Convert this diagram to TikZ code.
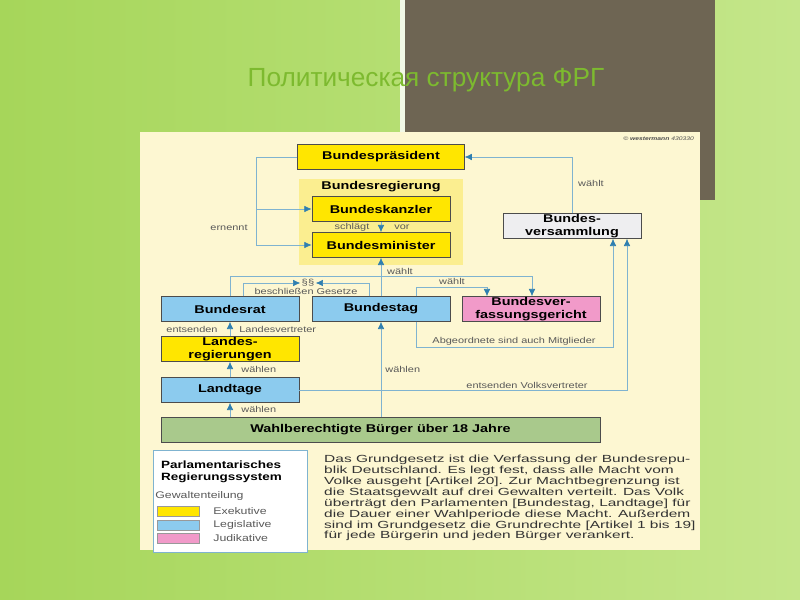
\documentclass[tikz,border=0pt]{standalone}
\usepackage{fontspec}
\setmainfont{Liberation Sans}[FakeStretch=1.28]
\newfontfamily\titlefont{Liberation Sans}
\newfontfamily\parafont{Liberation Sans}[FakeStretch=1.5]
\usetikzlibrary{arrows.meta}
\definecolor{slidegreen}{HTML}{A6D65A}
\definecolor{slidelight}{HTML}{C4E68A}
\definecolor{titlegreen}{HTML}{7DBA2F}
\definecolor{darkpanel}{HTML}{6E6553}
\definecolor{cream}{HTML}{FDF7D2}
\definecolor{exyellow}{HTML}{FFE600}
\definecolor{regyellow}{HTML}{FBEE90}
\definecolor{legblue}{HTML}{8CCBEE}
\definecolor{judpink}{HTML}{F19AC9}
\definecolor{votegreen}{HTML}{A9C98C}
\definecolor{assgray}{HTML}{EEEEF0}
\definecolor{linkblue}{HTML}{7FB3D0}
\definecolor{tipblue}{HTML}{2F7FB0}
\tikzset{
  box/.style={draw=black!70, minimum width=41.5mm, minimum height=7.5mm, inner sep=0pt,
              align=center, font=\bfseries\fontsize{9.6}{10.6}\selectfont},
  link/.style={draw=linkblue, line width=0.6pt},
  arr/.style={link, -{Latex[length=2.2mm,width=2mm,color=tipblue]}},
  lab/.style={font=\fontsize{7.3}{7.3}\selectfont, text=black!65, inner sep=1pt},
  leg/.style={lab, anchor=west, font=\fontsize{8.2}{8.2}\selectfont},
  swatch/.style={draw=black!40, minimum width=12.5mm, minimum height=3mm, inner sep=0pt}
}
\begin{document}
\begin{tikzpicture}[x=0.3mm,y=-0.3mm]
  % slide
  \shade[left color=slidegreen, right color=slidelight] (0,0) rectangle (800,600);
  \fill[white!85!slidegreen] (400,0) rectangle (405,135);
  \fill[darkpanel] (405,0) rectangle (715,200);
  \node[font=\titlefont\fontsize{22.4}{22.4}\selectfont, text=titlegreen] (title) at (426,80) {Политическая структура ФРГ};
  \fill[cream] (140,132) rectangle (700,550);
  \node[font=\fontsize{4.5}{4.5}\selectfont\itshape, text=black!70, anchor=east] (copy) at (698,139) {\copyright\ \textbf{westermann} 430330};

  % boxes
  \fill[regyellow] (299,179) rectangle (463,265);
  \node[font=\bfseries\fontsize{9.6}{9.6}\selectfont] (breg) at (381,187) {Bundesregierung};
  \node[box, fill=exyellow, minimum width=50mm] (bpraes) at (381,157) {Bundespräsident};
  \node[box, fill=exyellow] (bkanz) at (381,209) {Bundeskanzler};
  \node[box, fill=exyellow] (bmin) at (381,245) {Bundesminister};
  \node[box, fill=assgray] (bvers) at (572,226) {Bundes-\\versammlung};
  \node[box, fill=legblue] (brat) at (230,309) {Bundesrat};
  \node[box, fill=legblue] (btag) at (381,309) {Bundestag};
  \node[box, fill=judpink] (bverf) at (531,309) {Bundesver-\\fassungsgericht};
  \node[box, fill=exyellow] (lreg) at (230,349) {Landes-\\regierungen};
  \node[box, fill=legblue] (ltag) at (230,390) {Landtage};
  \node[box, fill=votegreen, minimum width=131.7mm] (volk) at (380.5,430) {Wahlberechtigte Bürger über 18 Jahre};

  % connectors
  \coordinate (e1) at (256,157);
  \draw[link] (bpraes.west) -- (e1) -- (256,245);
  \draw[arr] (256,209) -- (bkanz.west);
  \draw[arr] (256,245) -- (bmin.west);
  \node[lab] (lern) at (229,228) {ernennt};
  \draw[arr] (bkanz.south) -- (bmin.north);
  \node[lab] (lschl) at (352,227) {schlägt};
  \node[lab] (lvor) at (402,227) {vor};
  \draw[arr] (btag.north) -- (bmin.south);
  \node[lab] (lwaehlt1) at (400,271) {wählt};
  \draw[arr] (brat.north) -- (230,276) -- (532,276) -- (bverf.north -| 532,0);
  \draw[arr] (btag.north -| 416,0) -- (416,287) -- (487,287) -- (bverf.north -| 487,0);
  \node[lab] (lwaehlt2) at (452,281) {wählt};
  \coordinate (para) at (308,283);
  \node[lab, font=\fontsize{7.5}{7.5}\selectfont] (lpar) at (para) {§§};
  \draw[arr] (brat.north -| 243,0) -- (243,283) -- (lpar.west);
  \draw[arr] (btag.north -| 369,0) -- (369,283) -- (lpar.east);
  \node[lab] (lges) at (306,291) {beschließen Gesetze};
  \draw[arr] (btag.south -| 416,0) -- (416,347) -- (613,347) -- (bvers.south -| 613,0);
  \node[lab] (labg) at (514,341) {Abgeordnete sind auch Mitglieder};
  \draw[arr] (ltag.east) -- (627,390) -- (bvers.south -| 627,0);
  \node[lab] (lvv) at (527,385) {entsenden Volksvertreter};
  \draw[arr] (bvers.north) -- (572,157) -- (bpraes.east);
  \node[lab] (lwaehlt3) at (591,183) {wählt};
  \draw[arr] (lreg.north) -- (brat.south);
  \node[lab] (lent) at (192,329) {entsenden};
  \node[lab, anchor=west] (llv) at (238,329) {Landesvertreter};
  \draw[arr] (ltag.north) -- (lreg.south);
  \node[lab, anchor=west] (lw1) at (240,369) {wählen};
  \draw[arr] (volk.north -| 230,0) -- (ltag.south);
  \node[lab, anchor=west] (lw2) at (240,409) {wählen};
  \draw[arr] (volk.north -| 381,0) -- (btag.south);
  \node[lab, anchor=west] (lw3) at (384,369) {wählen};

  % legend
  \draw[fill=white, draw=linkblue] (153,450) rectangle (307,552);
  \node[anchor=north west, align=left, font=\bfseries\fontsize{9}{9.8}\selectfont] (lhead) at (157,457) {Parlamentarisches\\Regierungssystem};
  \node[leg] (lgew) at (154,496) {Gewaltenteilung};
  \node[swatch, fill=exyellow] (sexe) at (178,511) {};
  \node[swatch, fill=legblue] (sleg) at (178,525) {};
  \node[swatch, fill=judpink] (sjud) at (178,538) {};
  \node[leg] at (212,511) {Exekutive};
  \node[leg] at (212,525) {Legislative};
  \node[leg] at (212,538) {Judikative};
  \node[anchor=north west, align=left, inner sep=0pt, text=black!80,
        font=\parafont\fontsize{8.8}{9.3}\selectfont] (text) at (324,455) {%
    Das Grundgesetz ist die Verfassung der Bundesrepu-\\
    blik Deutschland. Es legt fest, dass alle Macht vom\\
    Volke ausgeht [Artikel 20]. Zur Machtbegrenzung ist\\
    die Staatsgewalt auf drei Gewalten verteilt. Das Volk\\
    überträgt den Parlamenten [Bundestag, Landtage] für\\
    die Dauer einer Wahlperiode diese Macht. Außerdem\\
    sind im Grundgesetz die Grundrechte [Artikel 1 bis 19]\\
    für jede Bürgerin und jeden Bürger verankert.};
\end{tikzpicture}
\end{document}
